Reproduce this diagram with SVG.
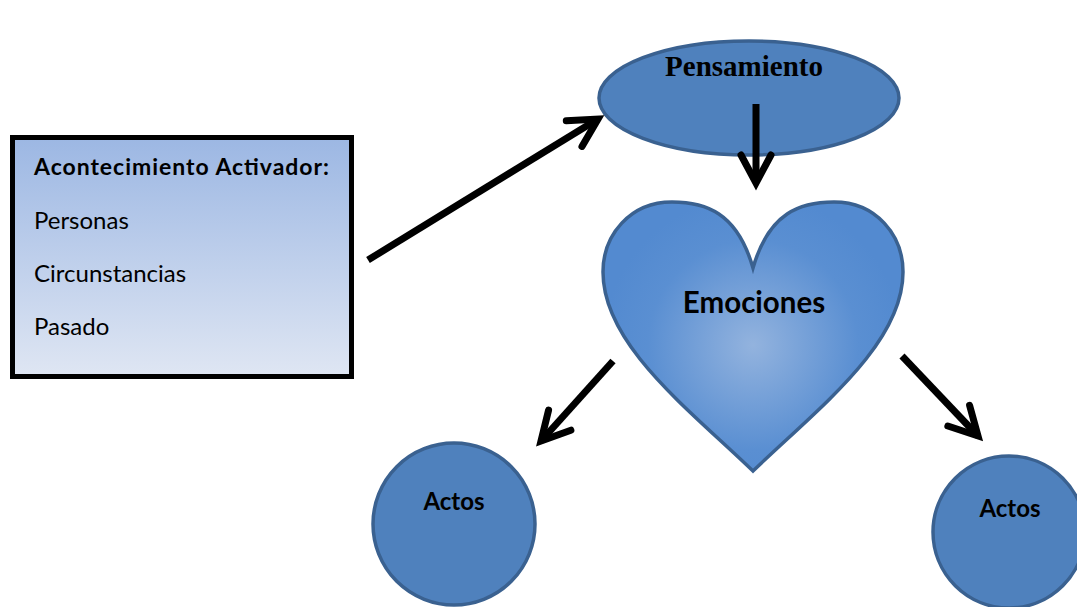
<svg xmlns="http://www.w3.org/2000/svg" width="1077" height="607" viewBox="0 0 1077 607">
  <style>
    .conn { fill: none; stroke: #000; stroke-width: 7; }
    .node { fill: #4f81bd; stroke: #3a6190; stroke-width: 3.5; }
    .lbl { font-family: Lato, "Open Sans", sans-serif; fill: #000; }
  </style>
  <defs>
    <linearGradient id="boxGrad" x1="0" y1="0" x2="0" y2="1">
      <stop offset="0" stop-color="#9cb7e3"/>
      <stop offset="1" stop-color="#dfe6f3"/>
    </linearGradient>
    <radialGradient id="heartGrad" cx="753" cy="345" r="150" gradientUnits="userSpaceOnUse">
      <stop offset="0" stop-color="#93b3de"/>
      <stop offset="0.7" stop-color="#5a8fd2"/>
      <stop offset="1" stop-color="#538ad0"/>
    </radialGradient>
    <marker id="chev" markerUnits="userSpaceOnUse" viewBox="-40 -22 46 44" refX="0" refY="0" markerWidth="46" markerHeight="44" orient="auto" overflow="visible">
      <path d="M -28 -15 L 0 0 L -28 15" fill="none" stroke="#000" stroke-width="7" stroke-linecap="round" stroke-linejoin="miter"/>
    </marker>
  </defs>
  <rect width="1077" height="607" fill="#fff"/>

  <g id="activador">
    <rect x="12.5" y="137.5" width="339" height="239" fill="url(#boxGrad)" stroke="#000" stroke-width="5"/>
    <text class="lbl" x="34" y="175" font-size="23" font-weight="bold" textLength="295">Acontecimiento Activador:</text>
    <text class="lbl" x="34" y="229" font-size="24">Personas</text>
    <text class="lbl" x="34" y="282" font-size="24">Circunstancias</text>
    <text class="lbl" x="34" y="335" font-size="24">Pasado</text>
  </g>

  <g id="pensamiento">
    <ellipse class="node" cx="749" cy="98" rx="150" ry="57"/>
    <text x="744" y="76" font-family="'Liberation Serif', serif" font-weight="bold" font-size="29" text-anchor="middle">Pensamiento</text>
  </g>

  <g id="emociones">
    <path d="M 753 268 C 737 212, 705 202, 672 202 C 630 202, 603 235, 603 272 C 603 345, 690 410, 753 471 C 816 410, 903 345, 903 272 C 903 235, 876 202, 834 202 C 801 202, 769 212, 753 268 Z" fill="url(#heartGrad)" stroke="#3a6190" stroke-width="3.5"/>
    <text class="lbl" x="754" y="313" font-size="29.5" font-weight="bold" text-anchor="middle">Emociones</text>
  </g>

  <g id="actos-izq">
    <circle class="node" cx="454" cy="524" r="81"/>
    <text class="lbl" x="454" y="510" font-size="24" font-weight="bold" text-anchor="middle">Actos</text>
  </g>

  <g id="actos-der">
    <circle class="node" cx="1009" cy="532" r="76"/>
    <text class="lbl" x="1010" y="517" font-size="24" font-weight="bold" text-anchor="middle">Actos</text>
  </g>

  <g id="connectors">
    <line class="conn" x1="368" y1="260" x2="598" y2="119" marker-end="url(#chev)"/>
    <line class="conn" x1="756" y1="104" x2="756" y2="183" marker-end="url(#chev)"/>
    <line class="conn" x1="613" y1="361" x2="541" y2="441" marker-end="url(#chev)"/>
    <line class="conn" x1="902" y1="356" x2="978" y2="436" marker-end="url(#chev)"/>
  </g>
</svg>
